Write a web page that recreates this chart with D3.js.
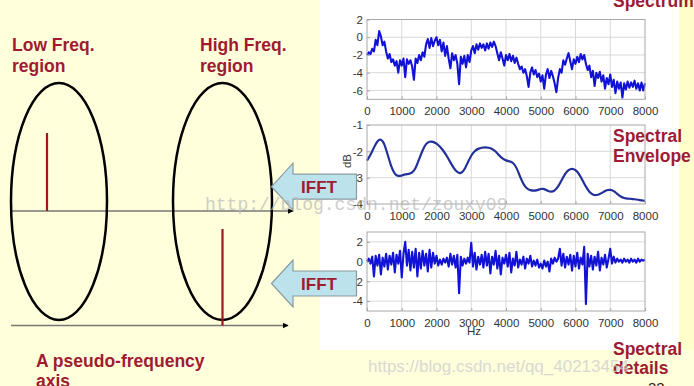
<!DOCTYPE html>
<html><head><meta charset="utf-8">
<script src="https://cdn.jsdelivr.net/npm/d3@7"></script>
<style>
body{margin:0;padding:0;background:#FFFFDC;}
svg{display:block;}
.tick text{font-family:"Liberation Sans Narrow","Arial Narrow","Liberation Sans",Arial,sans-serif;}
</style></head>
<body>
<svg id="c" width="694" height="386"></svg>
<script>
// ---------- DATA ----------
const freqStep = 50;           // Hz between samples of spectrum/details
const envStep = 100;           // Hz between samples of envelope
const xTicks = [0,1000,2000,3000,4000,5000,6000,7000,8000];
const spectrumTicks = [2,0,-2,-4,-6];
const envelopeTicks = [-1,-2,-3,-4];
const detailTicks = [2,0,-2,-4];

const spectrum = [
 -2.0,-1.7,-1.9,-1.3,-1.6,-0.3,-0.9,0.7,0.1,-0.9,
 -0.5,-1.6,-2.4,-1.9,-2.8,-2.5,-3.2,-2.7,-4.0,-2.6,
 -3.2,-2.4,-4.5,-2.5,-3.0,-2.6,-3.3,-4.8,-2.4,-2.9,
 -2.0,-2.6,-1.7,-2.2,-0.8,-0.2,-1.2,-0.1,-1.0,-0.4,
 0.0,-0.9,-0.3,-1.6,-0.6,-2.1,-1.0,-2.4,-3.5,-1.8,
 -2.6,-2.0,-3.0,-5.3,-2.2,-3.0,-2.1,-3.4,-2.0,-2.8,
 -1.5,-1.0,-1.8,-0.8,-1.4,-0.7,-1.2,-0.8,-1.5,-0.7,
 -1.3,-0.6,-1.1,-0.5,-1.0,-1.8,-2.6,-1.7,-2.4,-3.2,
 -2.0,-2.6,-1.9,-2.7,-2.1,-2.9,-2.3,-3.0,-3.6,-3.3,
 -4.0,-3.6,-4.4,-5.6,-4.0,-3.4,-4.2,-3.7,-4.5,-4.1,
 -5.0,-4.3,-5.8,-4.2,-3.6,-4.6,-3.8,-4.4,-5.2,-6.2,
 -4.6,-3.6,-4.0,-2.6,-3.1,-2.4,-1.8,-2.7,-3.6,-2.5,
 -3.0,-2.2,-2.8,-1.9,-2.5,-2.0,-3.0,-3.7,-3.2,-4.5,
 -3.8,-5.5,-4.0,-4.6,-3.9,-5.0,-4.3,-5.8,-4.6,-5.3,
 -4.2,-5.6,-4.8,-6.3,-5.0,-5.8,-5.1,-6.8,-5.2,-5.9,
 -5.0,-5.7,-5.1,-5.6,-4.9,-5.8,-5.2,-6.0,-5.1,-6.0,
 -5.2
];
const envelope = [
 -2.35,-2.15,-1.85,-1.6,-1.52,-1.7,-2.15,-2.6,-2.88,-2.95,
 -2.92,-2.87,-2.86,-2.82,-2.65,-2.3,-1.95,-1.7,-1.62,-1.63,
 -1.7,-1.82,-1.98,-2.18,-2.42,-2.65,-2.8,-2.85,-2.72,-2.42,
 -2.15,-1.98,-1.9,-1.86,-1.85,-1.86,-1.9,-2.0,-2.15,-2.28,
 -2.35,-2.38,-2.42,-2.6,-2.95,-3.25,-3.42,-3.48,-3.5,-3.48,
 -3.42,-3.42,-3.5,-3.55,-3.5,-3.35,-3.1,-2.85,-2.7,-2.65,
 -2.7,-2.85,-3.1,-3.35,-3.55,-3.65,-3.67,-3.62,-3.55,-3.47,
 -3.45,-3.5,-3.62,-3.72,-3.78,-3.8,-3.8,-3.82,-3.84,-3.86,
 -3.88
];
const details = [
 0.0,0.3,-0.2,0.5,-1.5,0.6,-0.4,0.7,-1.3,0.4,
 -0.5,0.8,-0.8,0.6,-0.3,0.9,-1.1,0.7,-0.2,1.1,
 -1.6,0.8,2.0,-0.4,1.2,-0.9,1.0,-0.6,1.3,-1.5,
 0.9,-0.7,1.1,-0.4,0.8,-1.0,1.2,-0.6,0.9,-0.2,
 0.6,-0.4,0.2,-0.3,0.3,-0.1,0.4,-0.5,0.8,-0.3,
 0.6,-0.6,0.7,-3.2,0.5,-0.4,0.3,-0.2,0.4,-0.1,
 1.9,-0.5,0.9,-0.8,0.5,-0.3,0.7,-0.6,1.0,-0.4,
 0.8,-1.2,0.5,-0.3,1.1,-0.7,0.6,-1.3,0.4,-0.2,
 0.7,-0.5,0.9,-1.1,0.3,-0.4,1.0,-0.6,0.2,-0.3,
 0.5,-0.7,0.3,-0.2,0.6,-0.5,0.1,-0.4,0.2,-0.6,
 -0.2,-0.7,0.1,-0.5,0.0,-1.0,0.3,-0.2,0.4,0.0,
 0.3,1.3,-0.4,0.8,-0.6,0.5,-0.3,0.7,-0.9,0.6,
 -0.5,0.9,-0.7,0.4,-0.3,1.5,-4.3,0.8,-0.5,0.6,
 -0.8,0.5,-0.4,1.0,-0.9,0.4,-0.3,0.7,-0.6,0.3,
 1.3,-0.2,0.5,-0.1,0.3,0.0,0.2,-0.1,0.3,0.0,
 0.2,-0.1,0.3,0.0,0.2,-0.1,0.3,0.0,0.2,0.1,
 0.2
];

// ---------- DRAW ----------
const svg = d3.select("#c");
const RED = "#9E1B32";
const BOLD = "'Liberation Sans',Arial,sans-serif";

svg.append("rect").attr("width",694).attr("height",386).attr("fill","#FFFFDC");
svg.append("rect").attr("x",679).attr("y",0).attr("width",15).attr("height",350).attr("fill","#FFFFCC");
svg.append("rect").attr("x",320).attr("y",0).attr("width",359).attr("height",350).attr("fill","#FFFFFF");

const x = d3.scaleLinear().domain([0,8000]).range([367,645]);

function panel(top,bottom,domain,ticks,data,step,opts){
  const y = d3.scaleLinear().domain(domain).range([bottom,top]);
  const g = svg.append("g");
  // grid
  g.selectAll(".vg").data(xTicks.slice(1,-1)).join("line")
    .attr("x1",d=>x(d)).attr("x2",d=>x(d)).attr("y1",top).attr("y2",bottom)
    .attr("stroke","#d9d9d9").attr("stroke-width",1);
  g.selectAll(".hg").data(ticks.filter(t=>t>domain[0]&&t<domain[1])).join("line")
    .attr("x1",x(0)).attr("x2",x(8000)).attr("y1",d=>y(d)).attr("y2",d=>y(d))
    .attr("stroke","#d9d9d9").attr("stroke-width",1);
  // data line
  const line = d3.line().x((d,i)=>x(i*step)).y(d=>y(d));
  if(opts.smooth) line.curve(d3.curveBasis);
  g.append("path").datum(data).attr("d",line).attr("fill","none")
    .attr("stroke",opts.color).attr("stroke-width",opts.width).attr("stroke-linejoin","round");
  // box
  g.append("rect").attr("x",x(0)).attr("y",top).attr("width",x(8000)-x(0)).attr("height",bottom-top)
    .attr("fill","none").attr("stroke","#a8a8a8").attr("stroke-width",1);
  // axes
  const ax = g.append("g").attr("transform",`translate(0,${bottom})`)
    .call(d3.axisBottom(x).tickValues(xTicks).tickSize(-3).tickPadding(8).tickFormat(d3.format("d")));
  const ay = g.append("g").attr("transform",`translate(${x(0)},0)`)
    .call(d3.axisLeft(y).tickValues(ticks).tickSize(-3).tickPadding(4).tickFormat(d=>d<0?"-"+Math.abs(d):d));
  [ax,ay].forEach(a=>{
    a.select(".domain").remove();
    a.selectAll(".tick line").attr("stroke","#a8a8a8");
    a.selectAll(".tick text").attr("fill","#333").style("font-size","11.5px");
  });
  return y;
}

panel(19.5,99.3,[-7,2],spectrumTicks,spectrum,freqStep,{color:"#1212D6",width:2.1});
panel(125,204,[-4,-1],envelopeTicks,envelope,envStep,{color:"#23309A",width:2.2,smooth:true});
panel(232,311,[-5,3],detailTicks,details,freqStep,{color:"#1212D6",width:2.1});

svg.append("text").attr("transform","translate(351,161) rotate(-90)").attr("text-anchor","middle")
  .attr("font-family","'Liberation Sans Narrow','Liberation Sans',Arial").attr("font-size",11.5).attr("fill","#333").text("dB");
svg.append("text").attr("x",474).attr("y",335).attr("text-anchor","middle")
  .attr("font-family","'Liberation Sans Narrow','Liberation Sans',Arial").attr("font-size",11.5).attr("fill","#333").text("Hz");

// ---------- left diagram ----------
const defs = svg.append("defs");
defs.append("marker").attr("id","ah").attr("viewBox","0 0 10 10").attr("refX",9).attr("refY",5)
  .attr("markerWidth",6).attr("markerHeight",6).attr("markerUnits","userSpaceOnUse").attr("orient","auto")
  .append("path").attr("d","M0,0L10,5L0,10Z").attr("fill","#000");

const axes = [{y:211,x2:293},{y:325.5,x2:288}];
svg.selectAll(".hax").data(axes).join("line").attr("x1",11).attr("x2",d=>d.x2)
  .attr("y1",d=>d.y).attr("y2",d=>d.y).attr("stroke","#777").attr("stroke-width",1.5).attr("marker-end","url(#ah)");

const ellipses = [{cx:59,rx:48},{cx:222.5,rx:49.5}];
svg.selectAll(".ell").data(ellipses).join("ellipse").attr("cx",d=>d.cx).attr("cy",201.5)
  .attr("rx",d=>d.rx).attr("ry",118.5).attr("fill","none").attr("stroke","#000").attr("stroke-width",2.5);

const stems = [{x:47,y1:133,y2:211},{x:222.5,y1:229,y2:325.5}];
svg.selectAll(".stem").data(stems).join("line").attr("x1",d=>d.x).attr("x2",d=>d.x)
  .attr("y1",d=>d.y1).attr("y2",d=>d.y2).attr("stroke","#A0161C").attr("stroke-width",2.2);

// IFFT arrows
const arrows = [{cy:186.7},{cy:283.5}];
arrows.forEach(a=>{
  const c=a.cy, tip=271.5, hb=293, r=356.5, bh=12.5, hh=23.5;
  svg.append("path").attr("d",`M${tip},${c}L${hb},${c-hh}L${hb},${c-bh}L${r},${c-bh}L${r},${c+bh}L${hb},${c+bh}L${hb},${c+hh}Z`)
    .attr("fill","#BCE2EC").attr("stroke","#8a9aa0").attr("stroke-width",1.2);
  svg.append("text").attr("x",319).attr("y",c+6.5).attr("text-anchor","middle")
    .attr("font-family",BOLD).attr("font-weight","bold").attr("font-size",17).attr("fill",RED).text("IFFT");
});

// labels
const labels = [
  {t:"Low Freq.",x:12,y:51},{t:"region",x:12,y:72},
  {t:"High Freq.",x:200,y:51},{t:"region",x:200,y:72},
  {t:"A pseudo-frequency",x:36,y:367},{t:"axis",x:36,y:387},
  {t:"Spectrum",x:613,y:7},
  {t:"Spectral",x:613,y:142},{t:"Envelope",x:613,y:162},
  {t:"Spectral",x:613,y:355},{t:"details",x:613,y:374}
];
svg.selectAll(".lab").data(labels).join("text").attr("x",d=>d.x).attr("y",d=>d.y)
  .attr("font-family",BOLD).attr("font-weight","bold").attr("font-size",17.5).attr("fill",RED).text(d=>d.t);

svg.append("text").attr("x",648).attr("y",393).attr("font-family",BOLD).attr("font-size",15).attr("fill","#222").text("32");

// watermarks
svg.append("text").attr("x",205).attr("y",210).attr("font-family","'Liberation Mono','DejaVu Sans Mono',monospace")
  .attr("font-size",18).attr("fill","#bdbdbd").attr("opacity",0.75).text("http://blog.csdn.net/zouxy09");
svg.append("text").attr("x",368).attr("y",372).attr("font-family","'Liberation Sans',Arial")
  .attr("font-size",17).attr("fill","#d0d0d0").attr("opacity",0.8).text("https://blog.csdn.net/qq_40213454");
</script>
</body></html>
